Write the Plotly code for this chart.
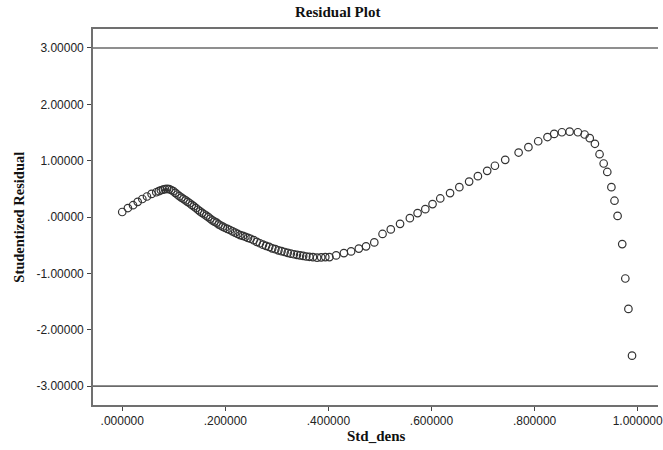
import plotly.graph_objects as go

# Std_dens values (sorted) and their studentized residuals
std_dens = [
    0.000, 0.011, 0.021, 0.030, 0.039, 0.048, 0.057, 0.066,
    0.071, 0.075, 0.079, 0.083, 0.087, 0.091, 0.095, 0.099,
    0.103, 0.107, 0.111, 0.115, 0.119, 0.123, 0.127, 0.131,
    0.135, 0.139, 0.143, 0.147, 0.151, 0.155, 0.159, 0.163,
    0.167, 0.171, 0.175, 0.179, 0.183, 0.187, 0.191, 0.195,
    0.199, 0.204, 0.209, 0.214, 0.219, 0.224, 0.229, 0.234,
    0.239, 0.244, 0.249, 0.255, 0.261, 0.267, 0.273, 0.279,
    0.285, 0.291, 0.297, 0.303, 0.309, 0.315, 0.321, 0.327,
    0.333, 0.339, 0.345, 0.351, 0.357, 0.363, 0.370, 0.378,
    0.386, 0.394, 0.402, 0.415, 0.430, 0.444, 0.459, 0.473,
    0.489, 0.505, 0.521, 0.539, 0.558, 0.573, 0.588, 0.602,
    0.617, 0.636, 0.654, 0.673, 0.690, 0.708, 0.723, 0.743,
    0.769, 0.788, 0.807, 0.825, 0.838, 0.853, 0.868, 0.884,
    0.897, 0.907, 0.917, 0.926, 0.934, 0.941, 0.949, 0.955,
    0.961, 0.970, 0.976, 0.982, 0.989,
]
residual = [
    0.09, 0.16, 0.21, 0.27, 0.32, 0.365, 0.41, 0.44,
    0.46, 0.475, 0.485, 0.495, 0.50, 0.495, 0.48, 0.46,
    0.43, 0.40, 0.37, 0.345, 0.32, 0.295, 0.27, 0.245,
    0.215, 0.19, 0.16, 0.13, 0.10, 0.075, 0.05, 0.025,
    0.00, -0.03, -0.06, -0.08, -0.10, -0.13, -0.15, -0.17,
    -0.19, -0.21, -0.23, -0.255, -0.275, -0.30, -0.32, -0.335,
    -0.35, -0.37, -0.385, -0.41, -0.44, -0.465, -0.49, -0.51,
    -0.53, -0.555, -0.57, -0.59, -0.605, -0.62, -0.635, -0.65,
    -0.66, -0.67, -0.68, -0.69, -0.70, -0.705, -0.71, -0.72,
    -0.715, -0.71, -0.71, -0.68, -0.64, -0.61, -0.56, -0.52,
    -0.45, -0.30, -0.22, -0.12, -0.02, 0.07, 0.14, 0.23,
    0.33, 0.425, 0.53, 0.63, 0.725, 0.82, 0.91, 1.015,
    1.145, 1.24, 1.345, 1.42, 1.475, 1.505, 1.515, 1.505,
    1.465, 1.40, 1.30, 1.115, 0.95, 0.80, 0.53, 0.29,
    0.02, -0.48, -1.09, -1.63, -2.46,
]

x_tick_vals = [0.0, 0.2, 0.4, 0.6, 0.8, 1.0]
x_tick_text = [".000000", ".200000", ".400000", ".600000", ".800000", "1.000000"]
y_tick_vals = [3, 2, 1, 0, -1, -2, -3]
y_tick_text = ["3.00000", "2.00000", "1.00000", ".00000", "-1.00000", "-2.00000", "-3.00000"]
ref_lines = [3, -3]

AXIS_GREY = "#707070"
SERIF = "Liberation Serif, Times New Roman, serif"
SANS = "Liberation Sans, Arial, sans-serif"

fig = go.Figure()
fig.add_trace(go.Scatter(
    x=std_dens, y=residual, mode="markers",
    marker=dict(symbol="circle-open", size=7.5, color="#333333",
                line=dict(width=1.2, color="#333333")),
    showlegend=False, hoverinfo="x+y",
))

for yv in ref_lines:
    fig.add_shape(type="line", xref="paper", x0=0, x1=1, yref="y", y0=yv, y1=yv,
                  line=dict(color="#6a6a6a", width=1.6), layer="below")

fig.update_layout(
    width=663, height=450,
    margin=dict(l=93, r=0, t=29, b=45, pad=0),
    paper_bgcolor="white", plot_bgcolor="white",
    font=dict(family=SANS, size=12, color="#222222"),
    xaxis=dict(
        range=[-0.0567, 1.0394], tickvals=x_tick_vals, ticktext=x_tick_text,
        showgrid=False, zeroline=False, showline=True, mirror=True,
        linecolor=AXIS_GREY, linewidth=1.6,
        ticks="outside", ticklen=4, tickwidth=1.3, tickcolor="#444444",
        tickfont=dict(family=SANS, size=12, color="#222222"),
        ticklabeloverflow="allow",
    ),
    yaxis=dict(
        range=[-3.335, 3.337], tickvals=y_tick_vals, ticktext=y_tick_text,
        showgrid=False, zeroline=False, showline=True,
        linecolor=AXIS_GREY, linewidth=1.6,
        ticks="outside", ticklen=4, tickwidth=1.3, tickcolor="#444444",
        tickfont=dict(family=SANS, size=12, color="#222222"),
        ticklabelstandoff=1,
    ),
    annotations=[
        dict(text="<b>Residual Plot</b>", xref="paper", yref="paper",
             x=(340 - 93) / 570, y=(405 - 12) / 376, showarrow=False,
             xanchor="center", yanchor="middle",
             font=dict(family=SERIF, size=15, color="#111111")),
        dict(text="<b>Std_dens</b>", xref="paper", yref="paper",
             x=(379 - 93) / 570, y=(405 - 436) / 376, showarrow=False,
             xanchor="center", yanchor="middle",
             font=dict(family=SERIF, size=15, color="#111111")),
        dict(text="<b>Studentized Residual</b>", xref="paper", yref="paper",
             x=(18 - 93) / 570, y=0.5, showarrow=False, textangle=-90,
             xanchor="center", yanchor="middle",
             font=dict(family=SERIF, size=14.5, color="#111111")),
    ],
)

fig.write_html("out.html")
